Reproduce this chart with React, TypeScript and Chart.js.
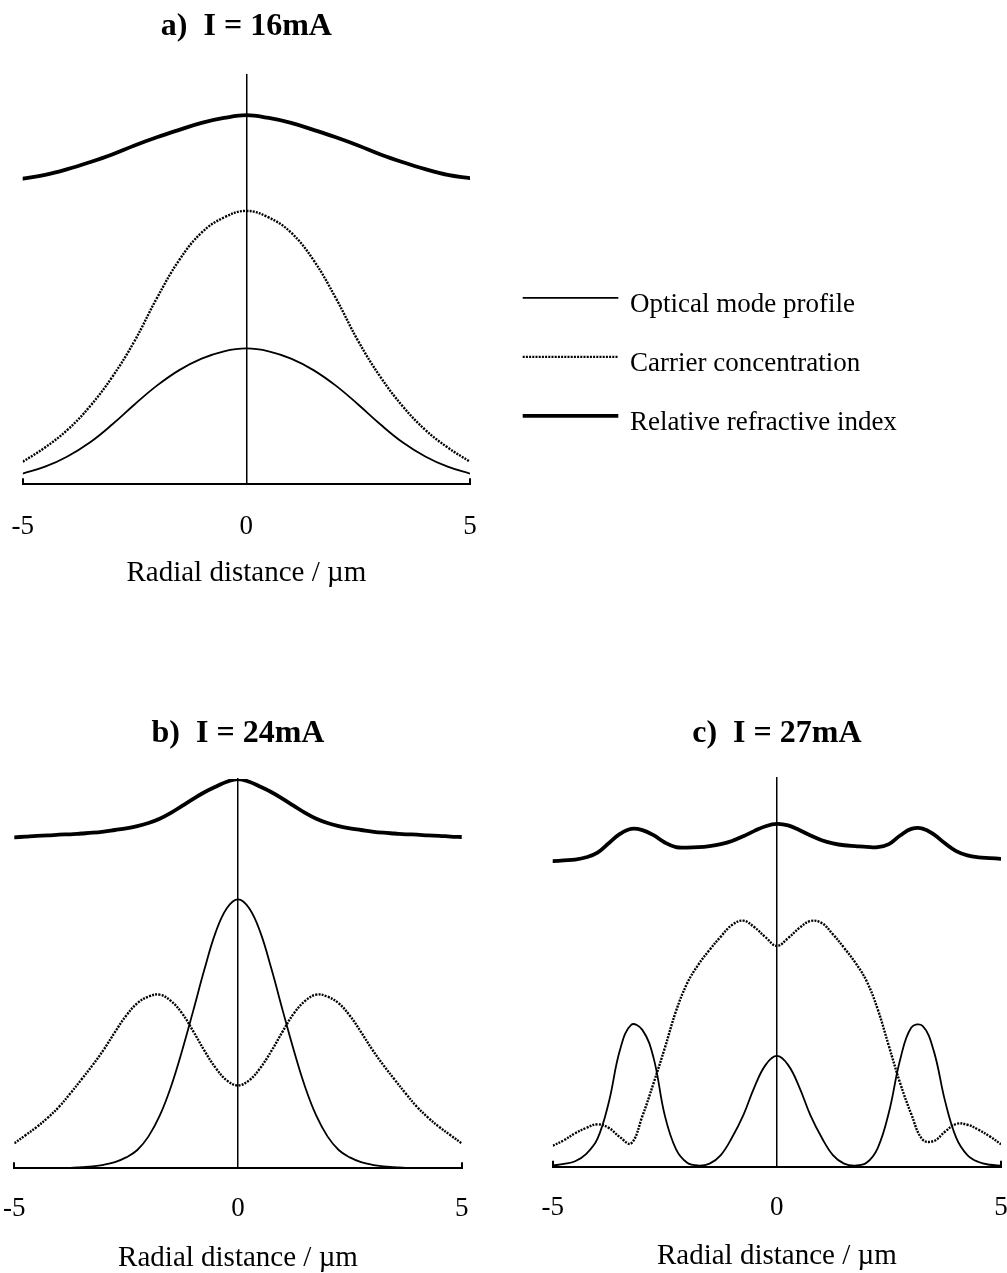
import React, { useEffect, useRef } from 'react';
import { Chart, registerables } from 'chart.js';

Chart.register(...registerables);

const SERIF = '"Liberation Serif", "Times New Roman", Times, serif';

// ---- data ----------------------------------------------------------------

// Radial positions in µm
const radialCoarse = [-5, -4.5, -4, -3.5, -3, -2.5, -2, -1.5, -1, -0.5, 0, 0.5, 1, 1.5, 2, 2.5, 3, 3.5, 4, 4.5, 5];
const radialFine = [
  -5, -4.75, -4.5, -4.25, -4, -3.75, -3.5, -3.25, -3, -2.75, -2.5, -2.25, -2, -1.75, -1.5, -1.25, -1, -0.75, -0.5, -0.25,
  0, 0.25, 0.5, 0.75, 1, 1.25, 1.5, 1.75, 2, 2.25, 2.5, 2.75, 3, 3.25, 3.5, 3.75, 4, 4.25, 4.5, 4.75, 5,
];
const radialTicks = [-5, 0, 5];

const seriesLabels = ['Optical mode profile', 'Carrier concentration', 'Relative refractive index'];
const panelTitles = ['a)  I = 16mA', 'b)  I = 24mA', 'c)  I = 27mA'];
const axisTitle = 'Radial distance / µm';

// a) I = 16 mA (relative units)
const opticalA = [0.026, 0.043, 0.068, 0.102, 0.146, 0.195, 0.241, 0.279, 0.307, 0.325, 0.332, 0.325, 0.307, 0.279, 0.241, 0.195, 0.146, 0.102, 0.068, 0.043, 0.026];
const carrierA = [0.055, 0.09, 0.133, 0.19, 0.262, 0.35, 0.455, 0.548, 0.615, 0.652, 0.668, 0.652, 0.615, 0.548, 0.455, 0.35, 0.262, 0.19, 0.133, 0.09, 0.055];
const indexA = [0.747, 0.756, 0.77, 0.787, 0.806, 0.828, 0.848, 0.866, 0.883, 0.895, 0.902, 0.895, 0.883, 0.866, 0.848, 0.828, 0.806, 0.787, 0.77, 0.756, 0.748];

// b) I = 24 mA
const opticalB = [
  0, 0, 0, 0, 0, 0.001, 0.003, 0.005, 0.009, 0.016, 0.028, 0.047, 0.082, 0.135, 0.209, 0.302, 0.405, 0.511, 0.606, 0.668,
  0.691, 0.668, 0.606, 0.511, 0.405, 0.302, 0.209, 0.135, 0.082, 0.047, 0.028, 0.016, 0.009, 0.005, 0.003, 0.001, 0, 0, 0, 0, 0,
];
const carrierB = [
  0.064, 0.085, 0.106, 0.13, 0.158, 0.192, 0.228, 0.265, 0.305, 0.35, 0.392, 0.424, 0.441, 0.446, 0.43, 0.398, 0.352, 0.302, 0.258, 0.226,
  0.213, 0.226, 0.258, 0.302, 0.352, 0.398, 0.43, 0.446, 0.441, 0.424, 0.392, 0.35, 0.305, 0.265, 0.228, 0.192, 0.158, 0.13, 0.106, 0.085, 0.064,
];
const indexB = [
  0.85, 0.852, 0.854, 0.855, 0.857, 0.858, 0.86, 0.862, 0.865, 0.869, 0.873, 0.879, 0.887, 0.898, 0.913, 0.931, 0.949, 0.966, 0.98, 0.993,
  1.0, 0.993, 0.98, 0.966, 0.949, 0.931, 0.913, 0.898, 0.887, 0.879, 0.873, 0.869, 0.865, 0.862, 0.86, 0.858, 0.857, 0.855, 0.854, 0.852, 0.851,
];

// c) I = 27 mA
const opticalC = [
  0.003, 0.007, 0.014, 0.033, 0.072, 0.165, 0.3, 0.365, 0.352, 0.28, 0.132, 0.045, 0.01, 0.003, 0.008, 0.03, 0.075, 0.132, 0.205, 0.262,
  0.285, 0.262, 0.205, 0.132, 0.075, 0.03, 0.008, 0.003, 0.01, 0.048, 0.14, 0.275, 0.358, 0.362, 0.298, 0.17, 0.075, 0.03, 0.012, 0.005, 0.003,
];
const carrierC = [
  0.054, 0.068, 0.086, 0.1, 0.109, 0.1, 0.076, 0.06, 0.13, 0.215, 0.305, 0.4, 0.472, 0.52, 0.558, 0.592, 0.622, 0.633, 0.616, 0.59,
  0.568, 0.588, 0.614, 0.632, 0.627, 0.598, 0.563, 0.525, 0.478, 0.405, 0.31, 0.215, 0.135, 0.07, 0.066, 0.09, 0.11, 0.108, 0.095, 0.078, 0.058,
];
const indexC = [
  0.786, 0.788, 0.79, 0.796, 0.808, 0.832, 0.856, 0.869, 0.866, 0.853, 0.834, 0.822, 0.821, 0.822, 0.825, 0.83, 0.838, 0.85, 0.864, 0.876,
  0.882, 0.878, 0.866, 0.852, 0.84, 0.832, 0.827, 0.825, 0.823, 0.822, 0.83, 0.852, 0.869, 0.87, 0.855, 0.832, 0.812, 0.801, 0.796, 0.794, 0.792,
];

// ---- drawing -------------------------------------------------------------

// Legend drawn beside the plot: a line sample per dataset followed by its label.
const sideLegend = {
  id: 'sideLegend',
  afterDraw(chart: any, _args: any, opts: any) {
    const { ctx, chartArea } = chart;
    const x0 = chartArea.right + opts.gap;
    ctx.save();
    ctx.font = `${opts.fontSize}px ${SERIF}`;
    ctx.textBaseline = 'middle';
    ctx.textAlign = 'left';
    ctx.fillStyle = '#000';
    chart.data.datasets.forEach((ds: any, i: number) => {
      const y = opts.top + i * opts.rowHeight;
      ctx.beginPath();
      ctx.lineWidth = ds.borderWidth;
      ctx.strokeStyle = ds.borderColor;
      ctx.setLineDash(ds.borderDash || []);
      ctx.lineCap = 'butt';
      ctx.moveTo(x0, y + opts.lineOffset);
      ctx.lineTo(x0 + opts.lineLength, y + opts.lineOffset);
      ctx.stroke();
      ctx.setLineDash([]);
      ctx.fillText(ds.label, x0 + opts.lineLength + opts.textGap, y);
    });
    ctx.restore();
  },
};

type Frame = {
  left: number;
  top: number;
  width: number;
  height: number;
  pad: { left: number; right: number };
  titlePad: { top: number; bottom: number };
  tickLine: number;
  axisTitlePad: { top: number; bottom: number };
};

type Panel = {
  title: string;
  radial: number[];
  optical: number[];
  carrier: number[];
  index: number[];
  frame: Frame;
  legend?: boolean;
};

const pairs = (xs: number[], ys: number[]) => xs.map((x, i) => ({ x, y: ys[i] }));

function buildConfig(p: Panel): any {
  const f = p.frame;
  const common = { pointRadius: 0, pointHoverRadius: 0, tension: 0.4, fill: false };
  return {
    type: 'line',
    data: {
      datasets: [
        { ...common, label: seriesLabels[0], data: pairs(p.radial, p.optical), borderColor: '#000', borderWidth: 1.8 },
        {
          ...common,
          label: seriesLabels[1],
          data: pairs(p.radial, p.carrier),
          borderColor: '#000',
          borderWidth: 2.4,
          borderDash: [2, 1.2],
        },
        {
          ...common,
          label: seriesLabels[2],
          data: pairs(p.radial, p.index),
          borderColor: '#000',
          borderWidth: 3.8,
          borderCapStyle: 'round',
        },
      ],
    },
    options: {
      animation: false,
      responsive: false,
      devicePixelRatio: 1,
      events: [],
      layout: { padding: { left: f.pad.left, right: f.pad.right, top: 0, bottom: 0 } },
      scales: {
        x: {
          type: 'linear',
          min: -5,
          max: 5,
          afterBuildTicks: (scale: any) => {
            scale.ticks = radialTicks.map((value) => ({ value }));
          },
          ticks: {
            font: { family: SERIF, size: 27, lineHeight: `${f.tickLine}px` },
            color: '#000',
            padding: 2,
            maxRotation: 0,
            autoSkip: false,
            callback: (v: number) => String(v),
          },
          grid: {
            drawOnChartArea: false,
            drawTicks: true,
            tickLength: -6,
            tickWidth: 2,
            lineWidth: 2,
            color: '#000',
            tickColor: (ctx: any) => (ctx.tick && ctx.tick.value === 0 ? 'rgba(0,0,0,0)' : '#000'),
          },
          border: { display: true, color: '#000', width: 2 },
          title: {
            display: true,
            text: axisTitle,
            color: '#000',
            font: { family: SERIF, size: 29 },
            padding: f.axisTitlePad,
          },
        },
        y: {
          type: 'linear',
          axis: 'y',
          min: 0,
          max: 1,
          position: { x: 0 },
          ticks: { display: false },
          grid: { drawOnChartArea: false, drawTicks: false },
          border: { display: true, color: '#000', width: 1.5 },
        },
      },
      plugins: {
        legend: { display: false },
        tooltip: { enabled: false },
        title: {
          display: true,
          text: p.title,
          color: '#000',
          font: { family: SERIF, size: 32, weight: 'bold' },
          padding: f.titlePad,
        },
        sideLegend: {
          gap: 52.7,
          lineLength: 95.6,
          textGap: 11.7,
          top: 305.4,
          rowHeight: 59,
          lineOffset: -7.5,
          fontSize: 27,
        },
      },
    },
    plugins: p.legend ? [sideLegend] : [],
  };
}

const panels: Panel[] = [
  {
    title: panelTitles[0],
    radial: radialCoarse,
    optical: opticalA,
    carrier: carrierA,
    index: indexA,
    legend: true,
    frame: {
      left: 0,
      top: 0,
      width: 1007,
      height: 600,
      pad: { left: 22.7, right: 537 },
      titlePad: { top: 7.2, bottom: 29.4 },
      tickLine: 92.6,
      axisTitlePad: { top: -18.7, bottom: 9 },
    },
  },
  {
    title: panelTitles[1],
    radial: radialFine,
    optical: opticalB,
    carrier: carrierB,
    index: indexB,
    frame: {
      left: 0,
      top: 640,
      width: 520,
      height: 650,
      pad: { left: 14.3, right: 58.3 },
      titlePad: { top: 74.7, bottom: 25.9 },
      tickLine: 89.6,
      axisTitlePad: { top: -14.7, bottom: 14 },
    },
  },
  {
    title: panelTitles[2],
    radial: radialFine,
    optical: opticalC,
    carrier: carrierC,
    index: indexC,
    frame: {
      left: 520,
      top: 640,
      width: 500,
      height: 650,
      pad: { left: 32.7, right: 19 },
      titlePad: { top: 74.7, bottom: 24.9 },
      tickLine: 91.4,
      axisTitlePad: { top: -16.9, bottom: 16 },
    },
  },
];

function ProfilePanel({ panel }: { panel: Panel }) {
  const ref = useRef<HTMLCanvasElement | null>(null);
  useEffect(() => {
    if (!ref.current) return;
    const chart = new Chart(ref.current, buildConfig(panel));
    return () => chart.destroy();
  }, [panel]);
  const f = panel.frame;
  return (
    <canvas
      ref={ref}
      width={f.width}
      height={f.height}
      style={{ position: 'absolute', left: f.left, top: f.top, width: f.width, height: f.height }}
    />
  );
}

export default function App() {
  return (
    <div
      style={{
        position: 'absolute',
        left: 0,
        top: 0,
        width: 1007,
        height: 1273,
        overflow: 'hidden',
        background: '#fff',
      }}
    >
      {panels.map((p) => (
        <ProfilePanel key={p.title} panel={p} />
      ))}
    </div>
  );
}
